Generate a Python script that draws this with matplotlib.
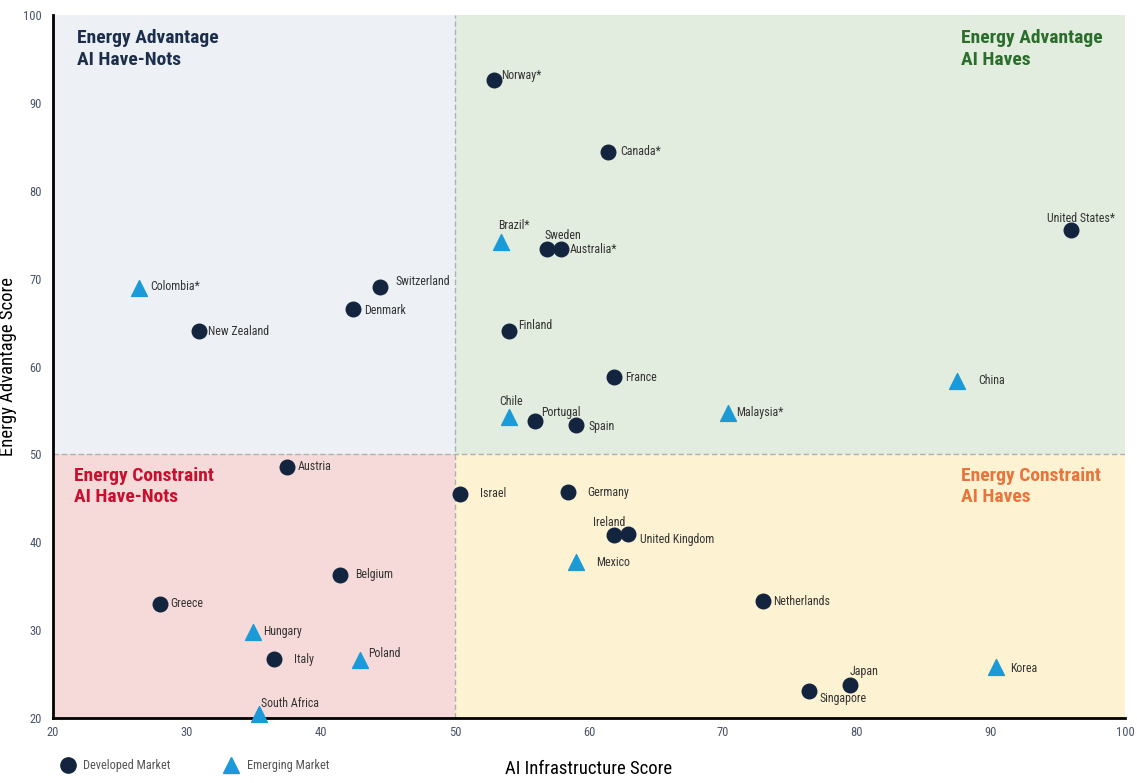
import matplotlib.pyplot as plt
from matplotlib.lines import Line2D

plt.rcParams['font.family'] = ['Roboto Condensed', 'Liberation Sans Narrow', 'Roboto', 'DejaVu Sans']

# data
developed = ["Norway*", "Canada*", "United States*", "Sweden", "Australia*", "Switzerland",
             "Denmark", "New Zealand", "Finland", "France", "Portugal", "Spain", "Austria",
             "Israel", "Germany", "Ireland", "United Kingdom", "Belgium", "Netherlands",
             "Greece", "Italy", "Japan", "Singapore"]
dev_ai = [52.9, 61.4, 96.0, 56.9, 57.9, 44.4, 42.4, 30.9, 54.0, 61.9, 56.0, 59.0, 37.5,
          50.4, 58.4, 61.9, 62.9, 41.4, 73.0, 28.0, 36.5, 79.5, 76.4]
dev_energy = [92.6, 84.4, 75.5, 73.4, 73.4, 69.0, 66.5, 64.0, 64.0, 58.8, 53.8, 53.3, 48.6,
              45.5, 45.7, 40.8, 40.9, 36.3, 33.3, 33.0, 26.7, 23.8, 23.1]

emerging = ["Brazil*", "Colombia*", "China", "Chile", "Malaysia*", "Mexico", "Hungary",
            "Poland", "Korea", "South Africa"]
em_ai = [53.4, 26.4, 87.5, 54.0, 70.4, 59.0, 34.9, 42.9, 90.4, 35.4]
em_energy = [74.2, 68.9, 58.4, 54.2, 54.7, 37.7, 29.8, 26.6, 25.8, 20.4]

quadrant_titles = ["Energy Advantage\nAI Have-Nots", "Energy Advantage\nAI Haves",
                   "Energy Constraint\nAI Have-Nots", "Energy Constraint\nAI Haves"]

# label placement: (dx, dy) in pixels, horizontal alignment
label_pos = {
    "Norway*": (7, 5, "left"), "Canada*": (13, 1, "left"), "United States*": (10, 12, "center"),
    "Sweden": (-3, 13, "left"), "Australia*": (9, -1, "left"), "Switzerland": (16, 6, "left"),
    "Denmark": (11, -1, "left"), "New Zealand": (9, 0, "left"), "Finland": (10, 6, "left"),
    "France": (11, 0, "left"), "Portugal": (6, 9, "left"), "Spain": (13, -1, "left"),
    "Austria": (10, 0, "left"), "Israel": (20, 0, "left"), "Germany": (20, 0, "left"),
    "Ireland": (-5, 13, "center"), "United Kingdom": (12, -5, "left"), "Belgium": (15, 0, "left"),
    "Netherlands": (10, 0, "left"), "Greece": (10, 0, "left"), "Italy": (20, 0, "left"),
    "Japan": (-1, 13, "left"), "Singapore": (11, -8, "left"),
    "Brazil*": (-2, 16, "left"), "Colombia*": (12, 2, "left"), "China": (21, 0, "left"),
    "Chile": (-9, 16, "left"), "Malaysia*": (8, 1, "left"), "Mexico": (21, 0, "left"),
    "Hungary": (10, 0, "left"), "Poland": (8, 7, "left"), "Korea": (14, -1, "left"),
    "South Africa": (2, 11, "left"),
}

navy = "#13243f"
blue = "#1a9bd7"
label_col = "#333333"

fig = plt.figure(figsize=(11.37, 7.83), dpi=100)
ax = fig.add_axes([0.0466, 0.083, 0.9428, 0.8978])
ax.set_xlim(20, 100)
ax.set_ylim(20, 100)

# quadrant backgrounds
ax.axvspan(20, 50, ymin=0.375, ymax=1, color="#edf1f6", lw=0, zorder=0)
ax.axvspan(50, 100, ymin=0.375, ymax=1, color="#e2ecdf", lw=0, zorder=0)
ax.axvspan(20, 50, ymin=0, ymax=0.375, color="#f6dada", lw=0, zorder=0)
ax.axvspan(50, 100, ymin=0, ymax=0.375, color="#fdf3d2", lw=0, zorder=0)
ax.axvline(50, color="#b0b0b0", ls=(0, (4, 2)), lw=1, zorder=1)
ax.axhline(50, color="#b0b0b0", ls=(0, (4, 2)), lw=1, zorder=1)

ax.scatter(dev_ai, dev_energy, s=110, marker="o", color=navy, zorder=3, clip_on=False)
ax.scatter(em_ai, em_energy, s=130, marker="^", color=blue, zorder=3, clip_on=False)

for names_, xs, ys in [(developed, dev_ai, dev_energy), (emerging, em_ai, em_energy)]:
    for n, x, y in zip(names_, xs, ys):
        dx, dy, ha = label_pos[n]
        ax.annotate(n, (x, y), xytext=(dx, dy), textcoords="offset pixels",
                    ha=ha, va="center", fontsize=8.6, color=label_col, zorder=4)

title_xy = [(21.8, 98.4), (87.8, 98.4), (21.6, 48.6), (87.8, 48.6)]
title_col = ["#1c2e4a", "#2b6e2b", "#c8102e", "#e8743b"]
for (x, y), t, c in zip(title_xy, quadrant_titles, title_col):
    ax.text(x, y, t, ha="left", va="top", fontsize=14, fontweight="bold",
            color=c, linespacing=1.25, zorder=4)

for s in ["top", "right"]:
    ax.spines[s].set_visible(False)
for s in ["left", "bottom"]:
    ax.spines[s].set_linewidth(2)
    ax.spines[s].set_color("black")
ax.set_xticks(range(20, 101, 10))
ax.set_yticks(range(20, 101, 10))
ax.tick_params(length=0, labelsize=9, labelcolor="#4a5568")
ax.tick_params(axis="y", pad=8)
ax.tick_params(axis="x", pad=6)

ax.set_xlabel("AI Infrastructure Score", fontsize=13.5, color="black")
ax.set_ylabel("Energy Advantage Score", fontsize=13.5, color="black")
ax.xaxis.set_label_coords(0.50, -0.060)
ax.yaxis.set_label_coords(-0.0336, 0.50)

# legend drawn by hand below the axes
fig.add_artist(Line2D([68 / 1137], [1 - 765 / 783], marker="o", ls="", color=navy,
                      markersize=11, transform=fig.transFigure))
fig.text(83 / 1137, 1 - 765 / 783, "Developed Market", fontsize=8.8, color="#555555",
         va="center", ha="left")
fig.add_artist(Line2D([231 / 1137], [1 - 765 / 783], marker="^", ls="", color=blue,
                      markersize=12, transform=fig.transFigure))
fig.text(247 / 1137, 1 - 765 / 783, "Emerging Market", fontsize=8.8, color="#555555",
         va="center", ha="left")

fig.savefig("out.png", dpi=100)
